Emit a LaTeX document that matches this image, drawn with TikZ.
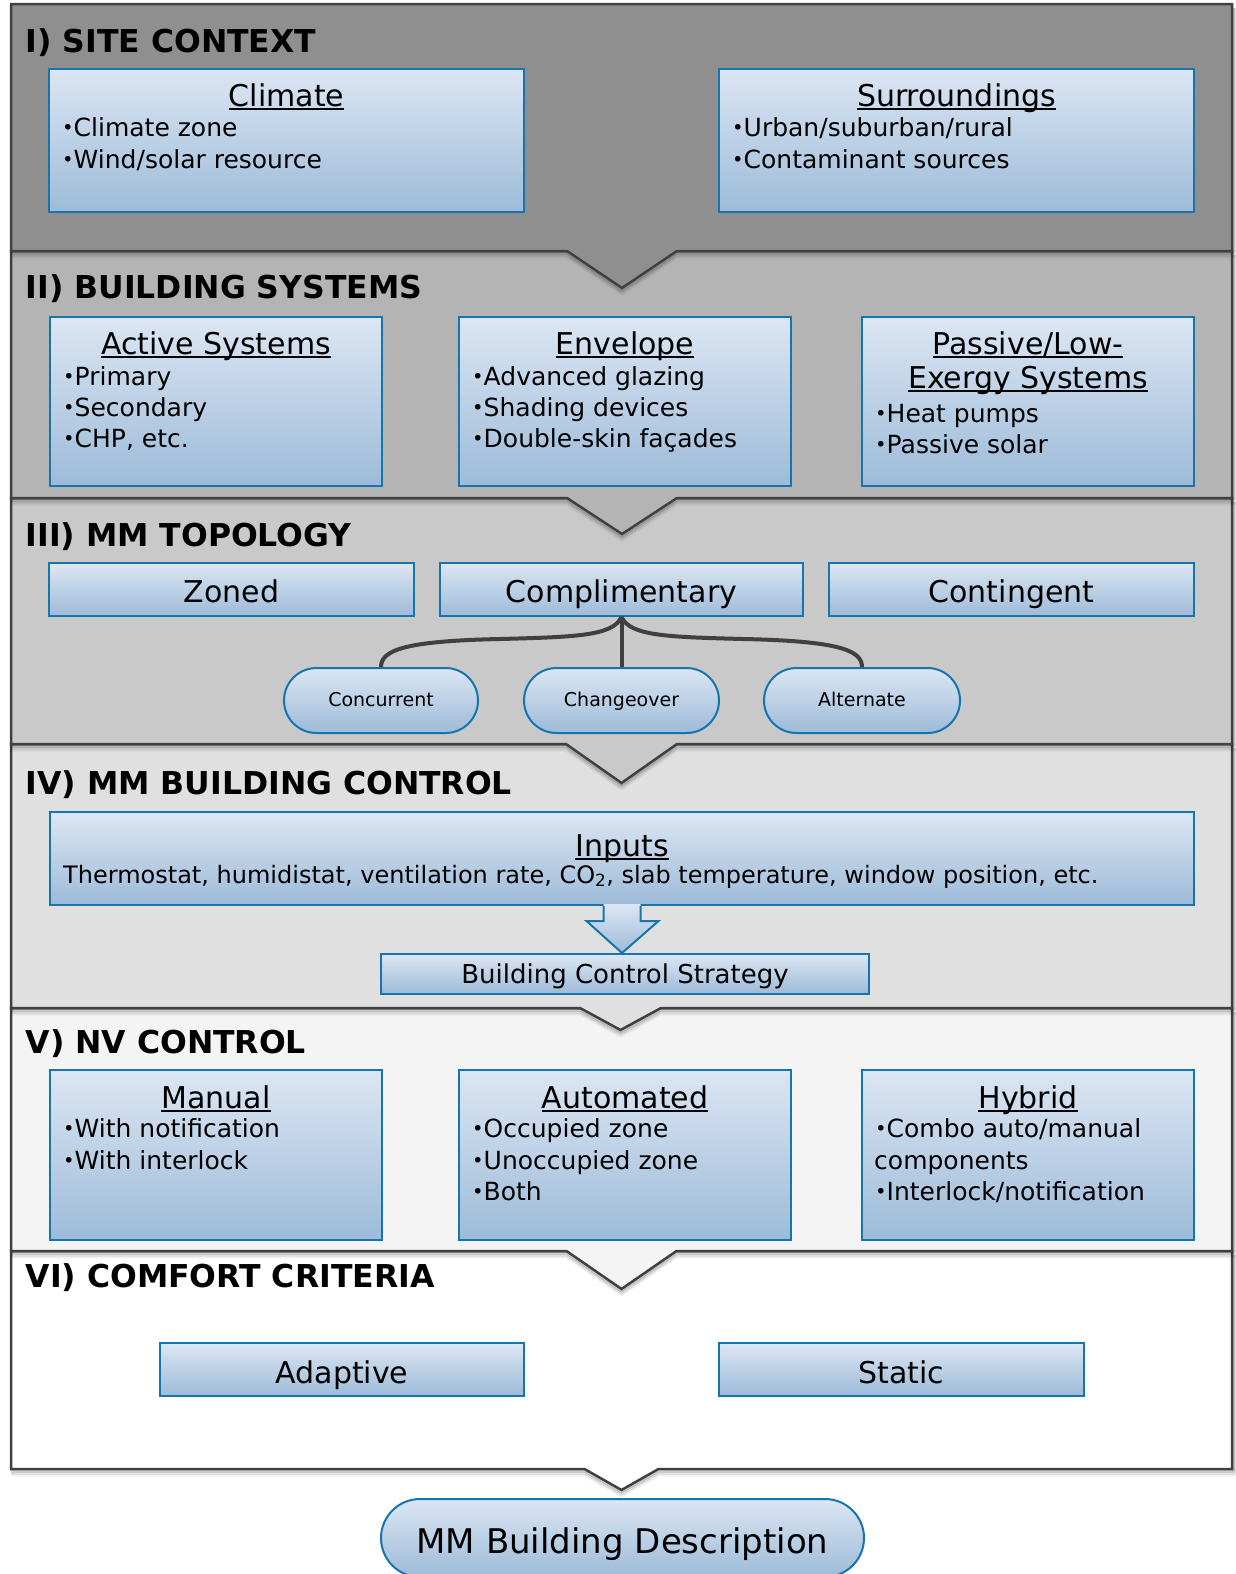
\documentclass[tikz,border=0pt]{standalone}
\usepackage{fontspec}
\setmainfont{DejaVu Sans}
\usetikzlibrary{shapes.misc,fit,calc}
\definecolor{pI}{RGB}{143,143,143}
\definecolor{pII}{RGB}{180,180,180}
\definecolor{pIII}{RGB}{201,201,201}
\definecolor{pIV}{RGB}{224,224,224}
\definecolor{pV}{RGB}{244,244,244}
\definecolor{pVI}{RGB}{255,255,255}
\definecolor{pline}{RGB}{64,64,64}
\definecolor{boxtop}{RGB}{220,230,243}
\definecolor{boxbot}{RGB}{157,187,217}
\definecolor{boxline}{RGB}{22,117,172}
\newcommand\fHdr{\fontsize{31.5}{36}\bfseries\selectfont}
\newcommand\fTtl{\fontsize{30}{36}\selectfont}
\newcommand\fBdy{\fontsize{25}{30}\selectfont}
\newcommand\myul[1]{\setbox0\hbox{#1}\rlap{\rule[-4pt]{\wd0}{2pt}}\box0}
\newcommand\bul{\raisebox{1.8pt}{\scalebox{0.78}{•}}}
% panel: top, bottom, half width of notch, depth of notch, colour, notch centre x
\newcommand\mypanel[6]{%
  \foreach \s/\op in {2/0.16,4/0.10,6/0.05}{
    \draw[black, opacity=\op, line width=3pt, line join=round]
      (1232+\s*0.5,#1+4) -- (1232+\s*0.5,#2+\s) -- (#6+#3,#2+\s) -- (#6,#2+#4+\s)
      -- (#6-#3,#2+\s) -- (11,#2+\s);
  }
  \draw[fill=#5, draw=pline, line width=2.5pt, line join=miter]
    (11,#1) -- (1232,#1) -- (1232,#2) -- (#6+#3,#2) -- (#6,#2+#4) -- (#6-#3,#2) -- (11,#2) -- cycle;
}
\tikzset{
  hdr/.style={font=\fHdr, anchor=base west, inner sep=0pt},
  ttl/.style={font=\fTtl, anchor=base, inner sep=0pt},
  bdy/.style={font=\fBdy, anchor=base west, inner sep=0pt},
  bluebox/.style={draw=boxline, line width=2pt, top color=boxtop, bottom color=boxbot, inner sep=0pt, rectangle},
  capsule/.style={bluebox, rounded rectangle},
  conn/.style={draw=pline, line width=4pt},
}
\begin{document}
\begin{tikzpicture}[x=1pt,y=-1pt]
\useasboundingbox (0,0) rectangle (1235,1574);
\fill[white] (0,0) rectangle (1235,1574);

% panels, lowest first
\mypanel{1251}{1469}{37}{21}{pVI}{621.5}
\mypanel{1008}{1251}{55}{38}{pV}{621.5}
\mypanel{744}{1008}{40.5}{22}{pIV}{620.5}
\mypanel{498}{744}{55.5}{39}{pIII}{621.5}
\mypanel{251}{498}{55}{36}{pII}{622}
\mypanel{4}{251}{55}{37}{pI}{622}

% ---------- I) SITE CONTEXT
\node[hdr] (h1) at (25.5,52) {I) SITE CONTEXT};
\node[bluebox, fit={(49,69) (524,212)}] (climate) {};
\node[ttl] (climate-t) at ($(climate.north)+(0,38)$) {\myul{Climate}};
\node[bdy] (climate-1) at ($(climate.north west)+(14,68)$) {\bul Climate zone};
\node[bdy] (climate-2) at ($(climate.north west)+(14,100)$) {\bul Wind/solar resource};
\node[bluebox, fit={(719,69) (1194,212)}] (surr) {};
\node[ttl] (surr-t) at ($(surr.north)+(0,38)$) {\myul{Surroundings}};
\node[bdy] (surr-1) at ($(surr.north west)+(14,68)$) {\bul Urban/suburban/rural};
\node[bdy] (surr-2) at ($(surr.north west)+(14,100)$) {\bul Contaminant sources};

% ---------- II) BUILDING SYSTEMS
\node[hdr] (h2) at (25.5,298) {II) BUILDING SYSTEMS};
\node[bluebox, fit={(50,317) (382,486)}] (active) {};
\node[ttl] (active-t) at ($(active.north)+(0,38)$) {\myul{Active Systems}};
\node[bdy] (active-1) at ($(active.north west)+(14,69)$) {\bul Primary};
\node[bdy] (active-2) at ($(active.north west)+(14,100)$) {\bul Secondary};
\node[bdy] (active-3) at ($(active.north west)+(14,131)$) {\bul CHP, etc.};
\node[bluebox, fit={(459,317) (791,486)}] (env) {};
\node[ttl] (env-t) at ($(env.north)+(0,38)$) {\myul{Envelope}};
\node[bdy] (env-1) at ($(env.north west)+(14,69)$) {\bul Advanced glazing};
\node[bdy] (env-2) at ($(env.north west)+(14,100)$) {\bul Shading devices};
\node[bdy] (env-3) at ($(env.north west)+(14,131)$) {\bul Double-skin façades};
\node[bluebox, fit={(862,317) (1194,486)}] (pass) {};
\node[ttl] (pass-t1) at ($(pass.north)+(0,38)$) {\myul{Passive/Low-}};
\node[ttl] (pass-t2) at ($(pass.north)+(0,72)$) {\myul{Exergy Systems}};
\node[bdy] (pass-1) at ($(pass.north west)+(14,106)$) {\bul Heat pumps};
\node[bdy] (pass-2) at ($(pass.north west)+(14,137)$) {\bul Passive solar};

% ---------- III) MM TOPOLOGY
\node[hdr] (h3) at (25.5,546) {III) MM TOPOLOGY};
\node[bluebox, minimum width=365, minimum height=53, font=\fTtl, text height=25pt, text depth=0pt] (zoned) at (231.5,589.5) {Zoned};
\node[bluebox, minimum width=363, minimum height=53, font=\fTtl, text height=25pt, text depth=0pt] (comp) at (621.5,589.5) {Complimentary};
\node[bluebox, minimum width=365, minimum height=53, font=\fTtl, text height=25pt, text depth=0pt] (cont) at (1011.5,589.5) {Contingent};
\node[capsule, minimum width=194, minimum height=65, font=\fontsize{19}{23}\selectfont, text height=15pt, text depth=3pt] (con) at (381,700.5) {Concurrent};
\node[capsule, minimum width=195, minimum height=65, font=\fontsize{19}{23}\selectfont, text height=15pt, text depth=3pt] (chg) at (621.5,700.5) {Changeover};
\node[capsule, minimum width=196, minimum height=65, font=\fontsize{19}{23}\selectfont, text height=15pt, text depth=3pt] (alt) at (862,700.5) {Alternate};
\draw[conn] (comp.south) .. controls (613,636) and (575,637) .. (500,639) .. controls (405,641) and (381,650) .. (con.north);
\draw[conn] (comp.south) -- (chg.north);
\draw[conn] (comp.south) .. controls (630,636) and (668,637) .. (743,639) .. controls (838,641) and (862,650) .. (alt.north);

% ---------- IV) MM BUILDING CONTROL
\node[hdr] (h4) at (25.5,794) {IV) MM BUILDING CONTROL};
\node[bluebox, fit={(50,812) (1194,905)}] (inputs) {};
\node[ttl] (inputs-t) at ($(inputs.north)+(0,45)$) {\myul{Inputs}};
\node[font=\fontsize{24}{29}\selectfont, anchor=base west, inner sep=0pt] (inputs-1) at ($(inputs.north west)+(14,72)$) {Thermostat, humidistat, ventilation rate, CO\textsubscript{2}, slab temperature, window position, etc.};
\node[bluebox, minimum width=488, minimum height=40, font=\fontsize{26}{31}\selectfont, text height=18pt, text depth=0pt] (bcs) at (625,974) {Building Control Strategy};
\shade[top color=boxtop, bottom color=boxbot]
  ($(inputs.south)+(-18.5,-2)$) -- ($(inputs.south)+(-18.5,15)$) -- ($(inputs.south)+(-35.5,15)$)
  -- (inputs.south |- bcs.north) -- ($(inputs.south)+(36.5,15)$) -- ($(inputs.south)+(18.5,15)$)
  -- ($(inputs.south)+(18.5,-2)$) -- cycle;
\draw[draw=boxline, line width=2pt]
  ($(inputs.south)+(-18.5,0)$) -- ($(inputs.south)+(-18.5,15)$) -- ($(inputs.south)+(-35.5,15)$)
  -- (inputs.south |- bcs.north) -- ($(inputs.south)+(36.5,15)$) -- ($(inputs.south)+(18.5,15)$)
  -- ($(inputs.south)+(18.5,0)$);

% ---------- V) NV CONTROL
\node[hdr] (h5) at (25.5,1053) {V) NV CONTROL};
\node[bluebox, fit={(50,1070) (382,1240)}] (manual) {};
\node[ttl] (manual-t) at ($(manual.north)+(0,39)$) {\myul{Manual}};
\node[bdy] (manual-1) at ($(manual.north west)+(14,68)$) {\bul With notification};
\node[bdy] (manual-2) at ($(manual.north west)+(14,100)$) {\bul With interlock};
\node[bluebox, fit={(459,1070) (791,1240)}] (auto) {};
\node[ttl] (auto-t) at ($(auto.north)+(0,39)$) {\myul{Automated}};
\node[bdy] (auto-1) at ($(auto.north west)+(14,68)$) {\bul Occupied zone};
\node[bdy] (auto-2) at ($(auto.north west)+(14,100)$) {\bul Unoccupied zone};
\node[bdy] (auto-3) at ($(auto.north west)+(14,131)$) {\bul Both};
\node[bluebox, fit={(862,1070) (1194,1240)}] (hybrid) {};
\node[ttl] (hybrid-t) at ($(hybrid.north)+(0,39)$) {\myul{Hybrid}};
\node[bdy] (hybrid-1) at ($(hybrid.north west)+(14,68)$) {\bul Combo auto/manual};
\node[bdy] (hybrid-2) at ($(hybrid.north west)+(13,100)$) {components};
\node[bdy] (hybrid-3) at ($(hybrid.north west)+(14,131)$) {\bul Interlock/notification};

% ---------- VI) COMFORT CRITERIA
\node[hdr] (h6) at (25.5,1287) {VI) COMFORT CRITERIA};
\node[bluebox, minimum width=364, minimum height=53, font=\fTtl, text height=27pt, text depth=0pt] (adapt) at (342,1369.5) {Adaptive};
\node[bluebox, minimum width=365, minimum height=53, font=\fTtl, text height=27pt, text depth=0pt] (static) at (901.5,1369.5) {Static};

% ---------- result
\node[capsule, minimum width=483, minimum height=78, font=\fontsize{34}{40}\selectfont, text height=30pt, text depth=0pt] (mmbd) at (622.5,1538) {MM Building Description};
\end{tikzpicture}
\end{document}
